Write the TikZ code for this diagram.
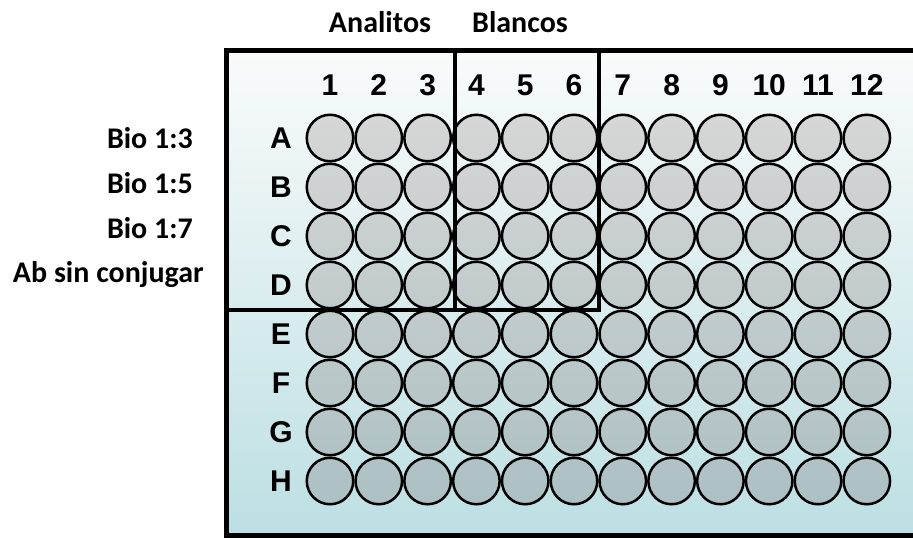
\documentclass[tikz,border=0pt]{standalone}
\usepackage{fontspec}
\setmainfont{Carlito}
\newfontfamily\platefont{Liberation Sans}
\usepackage{tikz}
\usetikzlibrary{positioning}
\definecolor{plateTop}{HTML}{FAFBFB}
\definecolor{plateBot}{HTML}{BCDFE3}
\definecolor{wellTop}{HTML}{D6D6D6}
\definecolor{wellBot}{HTML}{ACC0C3}

\begin{document}
\begin{tikzpicture}[x=1pt, y=-1pt,
    every node/.style={inner sep=0pt},
    well/.style={circle, draw=black, line width=2.5pt, minimum size=46.5pt},
    platelabel/.style={font=\platefont\bfseries\fontsize{30}{34}\selectfont},
    grouplabel/.style={font=\bfseries\fontsize{30}{34}\selectfont}]
    \useasboundingbox (0,0) rectangle (913,538);
    % plate body, cut at the right side
    \begin{scope}
      \clip (0,0) rectangle (913,538);
      \shade[top color=plateTop, bottom color=plateBot] (226,50) rectangle (940,535);
      \draw[line width=5pt] (940,50) -- (226,50) -- (226,535) -- (940,535);
    \end{scope}
    % wells
    \foreach \r [count=\i from 0] in {A,B,C,D,E,F,G,H} {
      \pgfmathsetmacro\wy{138+\i*49}
      \pgfmathsetmacro\pa{\i*12.5}
      \pgfmathsetmacro\pb{(\i+1)*12.5}
      \node[platelabel] (l\r) at (281,\wy) {\r};
      \foreach \c in {1,...,12} {
        \pgfmathsetmacro\wx{330+(\c-1)*48.8}
        \node[well, top color=wellBot!\pa!wellTop, bottom color=wellBot!\pb!wellTop] (w\r\c) at (\wx,\wy) {};
      }
    }
    \foreach \c in {1,...,12} {
      \pgfmathsetmacro\wx{330+(\c-1)*48.8}
      \node[platelabel] (n\c) at (\wx,85) {\c};
    }
    % groups
    \draw[line width=3.5pt] (226,310) -- (599,310) -- (599,50);
    \draw[line width=3.5pt] (455,50) -- (455,310);
    \node[grouplabel] (ana) at (380,22) {Analitos};
    \node[grouplabel] (bla) at (520,22) {Blancos};
    \node[grouplabel, anchor=east] (bio3) at (193,138) {Bio 1:3};
    \node[grouplabel, anchor=east] (bio5) at (193,183) {Bio 1:5};
    \node[grouplabel, anchor=east] (bio7) at (193,228) {Bio 1:7};
    \node[grouplabel, anchor=east] (ab) at (204,275) {Ab sin conjugar};
  \end{tikzpicture}
\end{document}
